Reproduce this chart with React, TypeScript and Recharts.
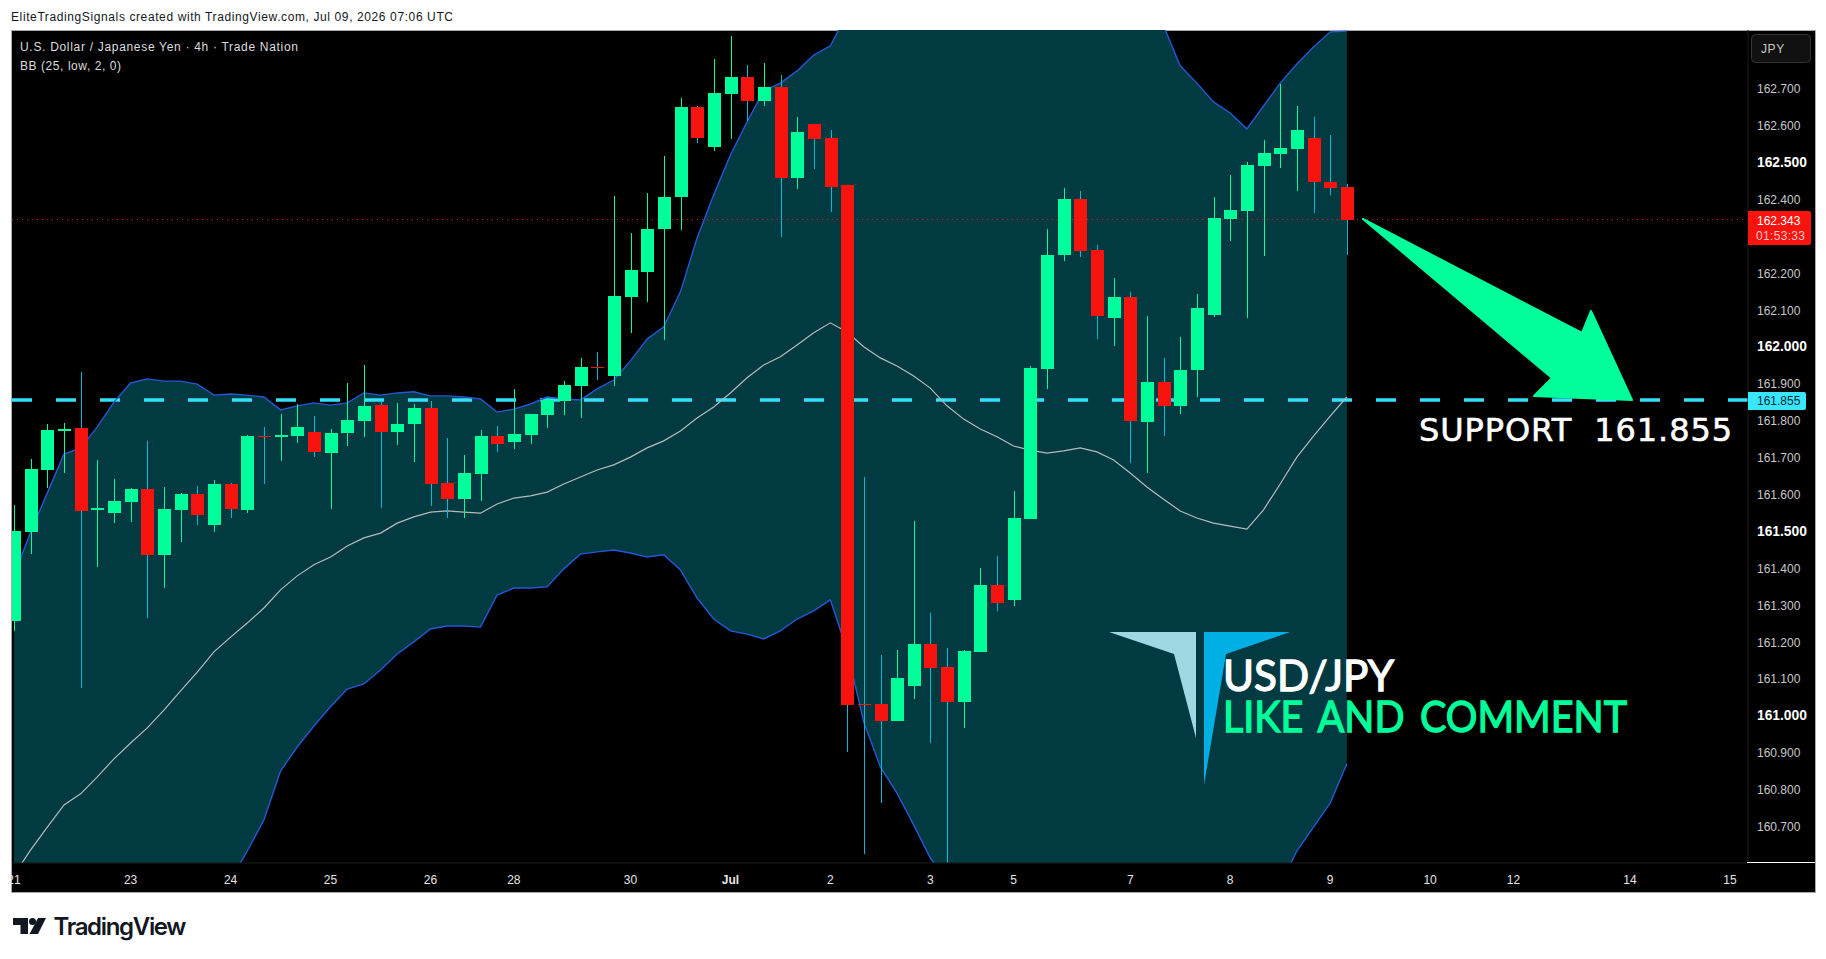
// App.tsx - USD/JPY 4h candles with Bollinger bands
import {
  Area,
  Bar,
  ComposedChart,
  Line,
  ReferenceLine,
  XAxis,
  YAxis,
} from 'recharts';

const opens = [
  161.256, 161.497, 161.665, 161.771, 161.779, 161.557, 161.548, 161.578, 161.614, 161.435,
  161.557, 161.600, 161.516, 161.627, 161.557, 161.757, 161.755, 161.757, 161.768, 161.711,
  161.765, 161.798, 161.841, 161.768, 161.790, 161.833, 161.630, 161.586, 161.654, 161.757,
  161.741, 161.760, 161.814, 161.852, 161.893, 161.944, 161.920, 162.134, 162.202, 162.319,
  162.405, 162.649, 162.541, 162.685, 162.731, 162.666, 162.704, 162.457, 162.603, 162.565,
  162.438, 161.031, 161.031, 160.984, 161.079, 161.193, 161.131, 161.036, 161.172, 161.353,
  161.313, 161.532, 161.939, 162.248, 162.400, 162.262, 162.077, 162.134, 161.795, 161.904,
  161.839, 161.936, 162.085, 162.346, 162.367, 162.489, 162.522, 162.536, 162.565, 162.446,
  162.432,
];
const highs = [
  161.570, 161.695, 161.790, 161.792, 161.931, 161.692, 161.641, 161.616, 161.744, 161.619,
  161.603, 161.622, 161.638, 161.630, 161.760, 161.782, 161.817, 161.844, 161.811, 161.776,
  161.901, 161.950, 161.852, 161.847, 161.844, 161.852, 161.752, 161.706, 161.774, 161.784,
  161.885, 161.817, 161.860, 161.906, 161.969, 161.985, 162.408, 162.308, 162.416, 162.517,
  162.674, 162.652, 162.780, 162.842, 162.763, 162.769, 162.736, 162.622, 162.603, 162.587,
  162.438, 161.646, 161.163, 161.177, 161.527, 161.277, 161.182, 161.177, 161.399, 161.432,
  161.608, 161.947, 162.319, 162.430, 162.422, 162.275, 162.186, 162.148, 162.083, 161.969,
  162.026, 162.142, 162.405, 162.465, 162.500, 162.560, 162.712, 162.652, 162.622, 162.573,
  162.441,
];
const lows = [
  161.229, 161.437, 161.616, 161.657, 161.074, 161.402, 161.521, 161.524, 161.264, 161.345,
  161.470, 161.516, 161.497, 161.535, 161.548, 161.627, 161.690, 161.738, 161.700, 161.559,
  161.730, 161.755, 161.562, 161.733, 161.687, 161.568, 161.535, 161.535, 161.581, 161.714,
  161.722, 161.736, 161.779, 161.814, 161.806, 161.909, 161.893, 162.037, 162.121, 162.018,
  162.316, 162.552, 162.530, 162.563, 162.611, 162.652, 162.297, 162.427, 162.481, 162.365,
  160.900, 160.624, 160.762, 160.984, 161.044, 160.925, 160.600, 160.966, 161.172, 161.283,
  161.296, 161.532, 161.885, 162.232, 162.243, 162.020, 162.001, 161.684, 161.657, 161.757,
  161.817, 161.863, 162.080, 162.286, 162.077, 162.245, 162.484, 162.422, 162.362, 162.411,
  162.248,
];
const closes = [
  161.500, 161.668, 161.774, 161.776, 161.554, 161.562, 161.581, 161.614, 161.435, 161.559,
  161.600, 161.543, 161.627, 161.559, 161.757, 161.755, 161.760, 161.782, 161.714, 161.765,
  161.801, 161.839, 161.768, 161.790, 161.833, 161.627, 161.586, 161.657, 161.757, 161.736,
  161.763, 161.817, 161.855, 161.896, 161.944, 161.942, 162.137, 162.207, 162.319, 162.405,
  162.649, 162.565, 162.687, 162.731, 162.666, 162.704, 162.457, 162.582, 162.563, 162.432,
  161.028, 161.028, 160.984, 161.101, 161.193, 161.128, 161.036, 161.174, 161.353, 161.305,
  161.535, 161.942, 162.248, 162.400, 162.259, 162.083, 162.134, 161.798, 161.904, 161.839,
  161.936, 162.104, 162.348, 162.370, 162.492, 162.525, 162.538, 162.587, 162.446, 162.430,
  162.343,
];

// Bollinger bands. Parts above and below the pane are estimates
const upperBand = [
  161.380, 161.497, 161.603, 161.708, 161.725, 161.782, 161.849, 161.901, 161.912, 161.906,
  161.906, 161.898, 161.868, 161.871, 161.868, 161.863, 161.828, 161.839, 161.847, 161.841,
  161.847, 161.874, 161.868, 161.874, 161.877, 161.866, 161.866, 161.863, 161.858, 161.822,
  161.830, 161.844, 161.863, 161.858, 161.855, 161.885, 161.909, 161.961, 162.020, 162.053,
  162.148, 162.294, 162.411, 162.519, 162.609, 162.693, 162.714, 162.747, 162.790, 162.815,
  162.902, 163.015, 163.078, 163.105, 163.137, 163.162, 163.124, 163.108, 163.094, 163.091,
  163.083, 163.089, 163.100, 163.124, 163.154, 163.132, 163.089, 163.018, 162.942, 162.869,
  162.761, 162.714, 162.663, 162.633, 162.590, 162.652, 162.714, 162.766, 162.812, 162.853,
  162.855,
];
const basisBand = [
  160.567, 160.635, 160.697, 160.757, 160.787, 160.833, 160.882, 160.925, 160.966, 161.014,
  161.066, 161.117, 161.172, 161.212, 161.250, 161.291, 161.340, 161.378, 161.408, 161.429,
  161.459, 161.481, 161.494, 161.521, 161.538, 161.551, 161.554, 161.551, 161.548, 161.573,
  161.589, 161.595, 161.605, 161.627, 161.646, 161.665, 161.679, 161.700, 161.725, 161.744,
  161.771, 161.806, 161.836, 161.874, 161.915, 161.950, 161.972, 162.004, 162.037, 162.064,
  162.039, 161.999, 161.969, 161.947, 161.920, 161.887, 161.839, 161.803, 161.776, 161.755,
  161.730, 161.719, 161.711, 161.717, 161.725, 161.714, 161.692, 161.657, 161.619, 161.586,
  161.554, 161.535, 161.521, 161.513, 161.505, 161.557, 161.627, 161.700, 161.757, 161.811,
  161.863,
];
const lowerBand = [
  159.754, 159.773, 159.791, 159.805, 159.848, 159.884, 159.914, 159.949, 160.019, 160.122,
  160.225, 160.337, 160.475, 160.553, 160.632, 160.716, 160.849, 160.914, 160.971, 161.023,
  161.071, 161.085, 161.123, 161.166, 161.199, 161.234, 161.242, 161.242, 161.239, 161.326,
  161.345, 161.345, 161.348, 161.397, 161.437, 161.443, 161.448, 161.440, 161.429, 161.435,
  161.394, 161.318, 161.261, 161.229, 161.220, 161.207, 161.229, 161.261, 161.283, 161.313,
  161.177, 160.982, 160.860, 160.789, 160.703, 160.613, 160.553, 160.499, 160.458, 160.418,
  160.377, 160.350, 160.323, 160.309, 160.296, 160.296, 160.296, 160.296, 160.296, 160.304,
  160.347, 160.355, 160.380, 160.393, 160.420, 160.461, 160.540, 160.632, 160.697, 160.762,
  160.868,
];

const priceTicks = [
  162.7, 162.6, 162.5, 162.4, 162.2, 162.1, 162.0, 161.9, 161.8, 161.7, 161.6, 161.5, 161.4,
  161.3, 161.2, 161.1, 161.0, 160.9, 160.8, 160.7,
];
const timeTickSlots = [0, 7, 13, 19, 25, 30, 37, 43, 49, 55, 60, 67, 73, 79, 85, 90, 97, 103];
const timeTickLabels = ['21', '23', '24', '25', '26', '28', '30', 'Jul', '2', '3', '5', '7', '8', '9', '10', '12', '14', '15'];

const lastPrice = 162.343;
const supportLevel = 161.855;

const GREEN = '#00ff9a';
const RED = '#f7140e';
const WICK_DOWN = '#00bcd4';
const BAND_FILL = '#023a42';
const BAND_LINE = '#2458d6';
const UI_FONT = '"Liberation Sans", Arial, sans-serif';

const rows = opens.map((open, i) => ({
  slot: i,
  open,
  high: highs[i],
  low: lows[i],
  close: closes[i],
  wick: [lows[i], highs[i]],
  band: [lowerBand[i], upperBand[i]],
  upper: upperBand[i],
  basis: basisBand[i],
  lower: lowerBand[i],
}));

// the bar spans low..high, body is placed inside that span
const Candle = (props: any) => {
  const { x, y, width, height, payload } = props;
  const { open, high, low, close } = payload;
  const down = close < open;
  const k = height / (high - low);
  const cx = Math.round(x + width / 2);
  const bodyTop = y + (high - Math.max(open, close)) * k;
  const bodyH = Math.max(Math.abs(open - close) * k, 1);
  return (
    <g shapeRendering="crispEdges">
      <rect x={cx} y={y} width={1} height={height} fill={down ? WICK_DOWN : GREEN} />
      <rect x={cx - 6} y={bodyTop} width={13} height={bodyH} fill={down ? RED : GREEN} />
    </g>
  );
};

const PriceTick = (props: any) => {
  const { x, y, payload } = props;
  const major = Math.abs((payload.value * 2) % 1) < 0.001 || Math.abs((payload.value * 2) % 1) > 0.999;
  return (
    <text
      x={x}
      y={y + 5}
      textAnchor="start"
      fill={major ? '#ffffff' : '#c8c8c8'}
      fontFamily={UI_FONT}
      fontSize={major ? 13.8 : 12}
      fontWeight={major ? 700 : 400}
    >
      {payload.value.toFixed(3)}
    </text>
  );
};

const TimeTick = (props: any) => {
  const { x, y, payload } = props;
  const label = timeTickLabels[timeTickSlots.indexOf(payload.value)];
  return (
    <text
      x={x}
      y={y + 11}
      textAnchor="middle"
      fill="#e6e6e6"
      fontFamily={UI_FONT}
      fontSize={12}
      fontWeight={label === 'Jul' ? 700 : 400}
    >
      {label}
    </text>
  );
};

const Overlay = () => (
  <svg
    width={1826}
    height={959}
    style={{ position: 'absolute', left: 0, top: 0, pointerEvents: 'none' }}
  >
    {/* header and legend */}
    <text x={11} y={21} fontFamily={UI_FONT} fontSize={12} fill="#131722" textLength={442}>
      EliteTradingSignals created with TradingView.com, Jul 09, 2026 07:06 UTC
    </text>
    <text x={20} y={51} fontFamily={UI_FONT} fontSize={12} fill="#dddddd" textLength={278}>
      U.S. Dollar / Japanese Yen · 4h · Trade Nation
    </text>
    <text x={20} y={70} fontFamily={UI_FONT} fontSize={12} fill="#dddddd" textLength={101}>
      BB (25, low, 2, 0)
    </text>

    {/* logo */}
    <polygon points="1109,632 1196,632 1196,738 1174,654" fill="#9fd8e2" />
    <polygon points="1204,632 1290,632 1226,654 1204,785" fill="#00b0e4" />
    <text
      x={1223}
      y={691}
      fontFamily="Lato, sans-serif"
      fontSize={43}
      fill="#ffffff"
      stroke="#ffffff"
      strokeWidth={1.3}
      textLength={171}
      lengthAdjust="spacingAndGlyphs"
    >
      USD/JPY
    </text>
    <text
      x={1223}
      y={732}
      fontFamily="Lato, sans-serif"
      fontSize={43}
      fill={GREEN}
      stroke={GREEN}
      strokeWidth={1.3}
      textLength={404}
      lengthAdjust="spacingAndGlyphs"
      style={{ wordSpacing: 6 }}
    >
      LIKE AND COMMENT
    </text>

    {/* arrow to support */}
    <polygon
      points="1363,219 1582,333 1591,311 1632,400 1534,396 1552,378"
      fill={GREEN}
      stroke={GREEN}
      strokeWidth={2}
      strokeLinejoin="round"
    />
    <text
      x={1419}
      y={441}
      fontFamily='"DejaVu Sans", sans-serif'
      fontSize={32}
      fill="#ffffff"
      stroke="#ffffff"
      strokeWidth={0.6}
      textLength={313}
      style={{ whiteSpace: 'pre' }}
    >
      SUPPORT  161.855
    </text>

    {/* right scale furniture */}
    <line x1={1747} y1={862.5} x2={1815} y2={862.5} stroke="#ffffff" />
    <rect x={1751.5} y={34.5} width={59} height={28} rx={4} fill="#111111" stroke="#333333" />
    <text x={1761} y={53} fontFamily={UI_FONT} fontSize={12} fill="#c8c8c8" letterSpacing={0.6}>
      JPY
    </text>
    <path d="M1748 211 H1809 a2 2 0 0 1 2 2 V243 a2 2 0 0 1 -2 2 H1748 Z" fill={RED} />
    <text x={1757} y={225} fontFamily={UI_FONT} fontSize={12} fill="#ffffff">
      {lastPrice.toFixed(3)}
    </text>
    <text x={1756} y={240} fontFamily={UI_FONT} fontSize={12} fill="#ffc4c0" textLength={49}>
      01:53:33
    </text>
    <path d="M1748 392 H1804 a2 2 0 0 1 2 2 V408 a2 2 0 0 1 -2 2 H1748 Z" fill="#38e6ff" />
    <text x={1757} y={405} fontFamily={UI_FONT} fontSize={12} fill="#0b2a33">
      {supportLevel.toFixed(3)}
    </text>

    {/* TradingView mark */}
    <path d="M13 918 H28 V934 H20.5 V925 H13 Z" fill="#131722" />
    <circle cx={32.5} cy={921.5} r={3.5} fill="#131722" />
    <path d="M38 918 H46 L38 934 H29.5 Z" fill="#131722" />
    <text x={53.5} y={935} fontFamily="Inter, sans-serif" fontWeight={600} fontSize={24} fill="#131722" textLength={133}>
      TradingView
    </text>
  </svg>
);

export default function App() {
  return (
    <div style={{ position: 'fixed', left: 0, top: 0, width: 1826, height: 959, background: '#ffffff', overflow: 'hidden' }}>
      {/* pane */}
      <div
        style={{
          position: 'absolute',
          left: 12,
          top: 31,
          width: 1803,
          height: 861,
          background: '#000000',
          outline: '1px solid #a8a8a8',
        }}
      />
      <div style={{ position: 'absolute', left: 0, top: 0 }}>
        <ComposedChart
          width={1826}
          height={959}
          data={rows}
          margin={{ top: 30, right: 11, bottom: 67, left: 12 }}
        >
          <XAxis
            dataKey="slot"
            type="number"
            domain={[-0.12, 104.08]}
            allowDataOverflow
            ticks={timeTickSlots}
            interval={0}
            height={29}
            axisLine={{ stroke: '#1a1a1a' }}
            tickLine={false}
            tickSize={0}
            tickMargin={10}
            tick={<TimeTick />}
          />
          <YAxis
            type="number"
            orientation="right"
            domain={[160.5995, 162.858]}
            allowDataOverflow
            ticks={priceTicks}
            interval={0}
            width={67}
            axisLine={{ stroke: '#1a1a1a' }}
            tickLine={false}
            tickSize={0}
            tickMargin={9}
            tick={<PriceTick />}
          />
          <Area
            dataKey="band"
            type="linear"
            fill={BAND_FILL}
            fillOpacity={1}
            stroke="none"
            dot={false}
            activeDot={false}
            isAnimationActive={false}
          />
          <ReferenceLine y={lastPrice} stroke="#d81818" strokeDasharray="1 4" strokeWidth={1} shapeRendering="crispEdges" />
          <ReferenceLine y={supportLevel} stroke="#36e0fb" strokeDasharray="20 24" strokeWidth={3.5} />
          <Line dataKey="upper" type="linear" stroke={BAND_LINE} strokeWidth={1.4} dot={false} activeDot={false} isAnimationActive={false} />
          <Line dataKey="lower" type="linear" stroke={BAND_LINE} strokeWidth={1.4} dot={false} activeDot={false} isAnimationActive={false} />
          <Line dataKey="basis" type="linear" stroke="#b4bbbd" strokeWidth={1.2} dot={false} activeDot={false} isAnimationActive={false} />
          <Bar dataKey="wick" barSize={13} shape={<Candle />} isAnimationActive={false} zIndex={450} />
        </ComposedChart>
      </div>
      <Overlay />
    </div>
  );
}
